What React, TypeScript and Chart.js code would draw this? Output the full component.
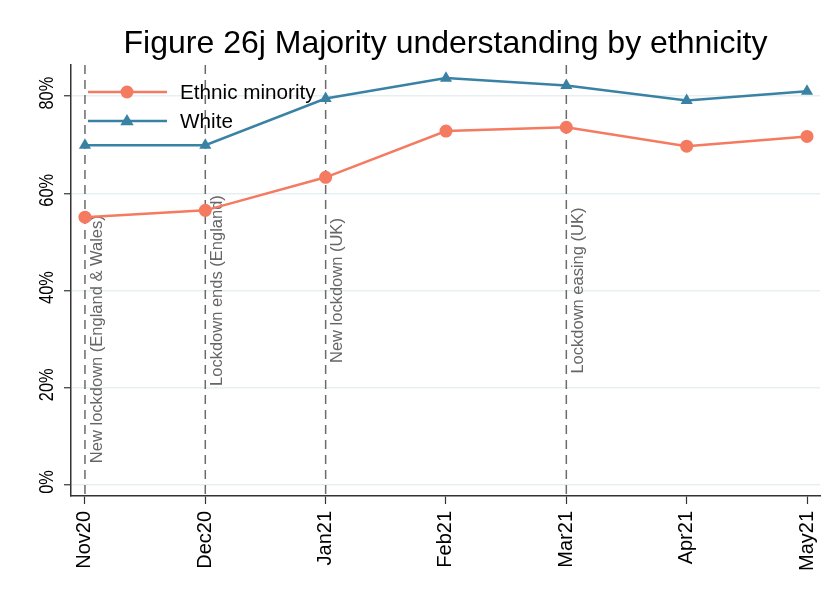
import { useEffect, useRef } from "react";
import { Chart, registerables } from "chart.js";
Chart.register(...registerables);

const months = ["Nov20", "Dec20", "Jan21", "Feb21", "Mar21", "Apr21", "May21"];
const ethnicMinority = [55.1, 56.5, 63.3, 72.8, 73.6, 69.7, 71.7];
const white = [69.9, 69.9, 79.5, 83.7, 82.2, 79.1, 81.0];
const yTicks = [0, 20, 40, 60, 80];
const eventMonths = ["Nov20", "Dec20", "Jan21", "Mar21"];
const eventLabels = [
  "New lockdown (England & Wales)",
  "Lockdown ends (England)",
  "New lockdown (UK)",
  "Lockdown easing (UK)",
];
const titleText = "Figure 26j Majority understanding by ethnicity";

const FONT = "'Liberation Sans', Arial, Helvetica, sans-serif";
const ORANGE = "#F47A60";
const BLUE = "#3A82A4";

export default function App() {
  const ref = useRef<HTMLCanvasElement>(null);

  useEffect(() => {
    const canvas = ref.current!;
    const labelCentres = [30, 40, 40, 40];

    const eventPlugin = {
      id: "eventLines",
      beforeDatasetsDraw(chart: any) {
        const { ctx, chartArea, scales } = chart;
        const xs = scales.x;
        const ys = scales.y;
        ctx.save();
        eventMonths.forEach((m, i) => {
          const x = xs.getPixelForValue(months.indexOf(m));
          ctx.strokeStyle = "#6b6b6b";
          ctx.lineWidth = 1.5;
          ctx.setLineDash([9, 6]);
          ctx.beginPath();
          ctx.moveTo(x, chartArea.top);
          ctx.lineTo(x, chartArea.bottom);
          ctx.stroke();
          ctx.setLineDash([]);
          ctx.save();
          ctx.translate(x + 12, ys.getPixelForValue(labelCentres[i]));
          ctx.rotate(-Math.PI / 2);
          ctx.font = `16.5px ${FONT}`;
          ctx.fillStyle = "#666666";
          ctx.textAlign = "center";
          ctx.textBaseline = "middle";
          ctx.fillText(eventLabels[i], 0, 0);
          ctx.restore();
        });
        ctx.restore();
      },
    };

    const yLabelPlugin = {
      id: "yLabels",
      afterDraw(chart: any) {
        const { ctx, scales } = chart;
        const ys = scales.y;
        ctx.save();
        ctx.font = `21px ${FONT}`;
        ctx.fillStyle = "#000";
        ctx.textAlign = "center";
        ctx.textBaseline = "middle";
        yTicks.forEach((v) => {
          const y = ys.getPixelForValue(v);
          ctx.save();
          ctx.translate(ys.right - 23.5, y - 3);
          ctx.rotate(-Math.PI / 2);
          ctx.scale(0.78, 1);
          ctx.fillText(v + "%", 0, 0);
          ctx.restore();
        });
        ctx.restore();
      },
    };

    const legendPlugin = {
      id: "customLegend",
      afterDraw(chart: any) {
        const { ctx, chartArea } = chart;
        ctx.save();
        chart.data.datasets.forEach((ds: any, i: number) => {
          const y = chartArea.top + 27 + i * 29;
          const x0 = chartArea.left + 17;
          const x1 = chartArea.left + 96;
          const mx = chartArea.left + 56;
          ctx.strokeStyle = ds.borderColor;
          ctx.lineWidth = 2.5;
          ctx.beginPath();
          ctx.moveTo(x0, y);
          ctx.lineTo(x1, y);
          ctx.stroke();
          ctx.fillStyle = ds.backgroundColor;
          ctx.beginPath();
          if (ds.pointStyle === "triangle") {
            const r = 7;
            ctx.moveTo(mx, y - r);
            ctx.lineTo(mx + r * 0.95, y + r * 0.6);
            ctx.lineTo(mx - r * 0.95, y + r * 0.6);
            ctx.closePath();
          } else {
            ctx.arc(mx, y, 6.5, 0, Math.PI * 2);
          }
          ctx.fill();
          ctx.fillStyle = "#000";
          ctx.font = `20.7px ${FONT}`;
          ctx.textAlign = "left";
          ctx.textBaseline = "middle";
          ctx.fillText(ds.label, chartArea.left + 109, y + 1);
        });
        ctx.restore();
      },
    };

    const chart = new Chart(canvas, {
      type: "line",
      data: {
        datasets: [
          {
            label: "Ethnic minority",
            data: ethnicMinority.map((v, i) => ({ x: i, y: v })),
            borderColor: ORANGE,
            backgroundColor: ORANGE,
            pointBorderColor: ORANGE,
            pointBackgroundColor: ORANGE,
            pointStyle: "circle",
            pointRadius: 6.5,
            pointBorderWidth: 0,
            borderWidth: 2.5,
            tension: 0,
          },
          {
            label: "White",
            data: white.map((v, i) => ({ x: i, y: v })),
            borderColor: BLUE,
            backgroundColor: BLUE,
            pointBorderColor: BLUE,
            pointBackgroundColor: BLUE,
            pointStyle: "triangle",
            pointRadius: 7,
            pointBorderWidth: 0,
            borderWidth: 2.5,
            tension: 0,
          },
        ],
      },
      options: {
        responsive: false,
        animation: false,
        layout: { padding: { left: 0, right: 16, top: 0, bottom: 0 } },
        plugins: {
          legend: { display: false },
          tooltip: { enabled: false },
          title: {
            display: true,
            text: titleText,
            color: "#000",
            font: { size: 32, family: FONT, weight: "normal" },
            padding: { top: 24.6, bottom: 2 },
            fullSize: false,
          },
        },
        scales: {
          x: {
            type: "linear",
            min: -0.116,
            max: 6.108,
            afterBuildTicks: (s: any) => {
              s.ticks = months.map((_, i) => ({ value: i }));
            },
            afterFit: (s: any) => {
              s.height = 111;
              s.paddingRight = 0;
              s.paddingLeft = 0;
            },
            ticks: {
              autoSkip: false,
              minRotation: 90,
              maxRotation: 90,
              padding: 7,
              color: "#000",
              font: { size: 20, family: FONT },
              callback: (v: any) => months[v as number],
            },
            grid: {
              drawOnChartArea: false,
              drawTicks: true,
              tickLength: 8,
              tickColor: "#333",
              tickWidth: 1.2,
            },
            border: { display: true, color: "#333", width: 1.5 },
          },
          y: {
            type: "linear",
            min: -2.26,
            max: 86.4,
            afterBuildTicks: (s: any) => {
              s.ticks = yTicks.map((v) => ({ value: v }));
            },
            afterFit: (s: any) => {
              s.width = 71;
              s.paddingTop = 0;
              s.paddingBottom = 0;
            },
            ticks: { display: false },
            grid: {
              color: "#E6EFF2",
              lineWidth: 1.5,
              drawTicks: true,
              tickLength: 7,
              tickColor: "#333",
              tickWidth: 1.2,
            },
            border: { display: true, color: "#333", width: 1.5 },
          },
        },
      },
      plugins: [eventPlugin, yLabelPlugin, legendPlugin],
    } as any);

    return () => chart.destroy();
  }, []);

  return (
    <div style={{ position: "fixed", left: 0, top: 0, width: 836, height: 607, background: "#fff" }}>
      <canvas ref={ref} width={836} height={607} style={{ display: "block" }} />
    </div>
  );
}
